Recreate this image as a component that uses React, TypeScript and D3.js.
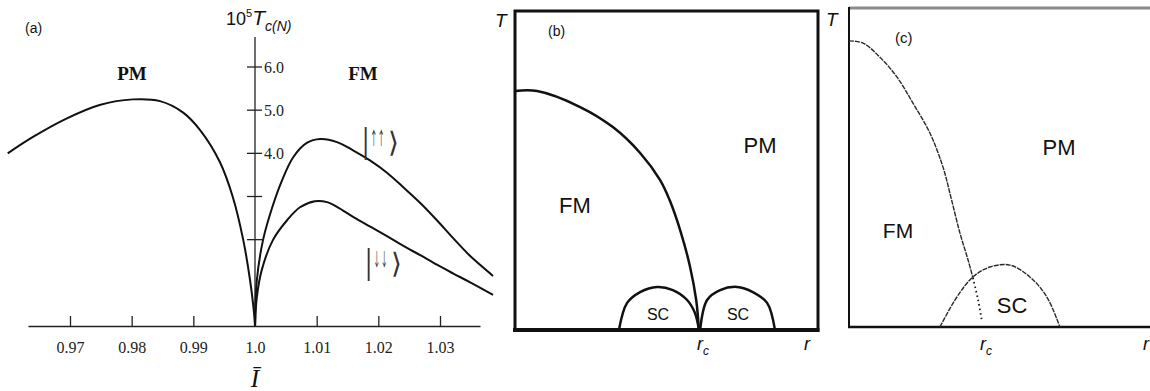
import { useRef, useEffect } from "react";
import * as d3 from "d3";

// ---------- panel (a): 10^5 Tc(N) against I-bar ----------
const iTicks = [0.97, 0.98, 0.99, 1.0, 1.01, 1.02, 1.03];
const iTickLabels = ["0.97", "0.98", "0.99", "1.0", "1.01", "1.02", "1.03"];
const tTicks = [2, 3, 4, 5, 6];
const tTickLabels = ["", "", "4.0", "5.0", "6.0"];

// [I, 10^5 Tc]
const pmCurve = [
  [0.9599, 4.0], [0.964, 4.38], [0.9695, 4.81], [0.9748, 5.12], [0.9802, 5.25],
  [0.9846, 5.21], [0.9883, 4.95], [0.9911, 4.54], [0.9943, 3.8], [0.9964, 2.99],
  [0.9981, 1.99], [0.9992, 1.06], [0.9998, 0.37], [1.0, 0],
];
const upUpCurve = [
  [1.0, 0], [1.0003, 1.06], [1.0013, 1.99], [1.0028, 2.75], [1.0044, 3.38],
  [1.0062, 3.91], [1.0084, 4.24], [1.0106, 4.33], [1.0133, 4.26], [1.0159, 4.07],
  [1.0187, 3.83], [1.0214, 3.55], [1.024, 3.22], [1.0268, 2.85], [1.0295, 2.45],
  [1.0321, 2.04], [1.0349, 1.62], [1.0386, 1.16],
];
const downDownCurve = [
  [1.0, 0], [1.0003, 0.67], [1.0011, 1.3], [1.0029, 1.99], [1.0052, 2.45],
  [1.0073, 2.75], [1.0097, 2.89], [1.0117, 2.87], [1.0133, 2.76], [1.0159, 2.53],
  [1.0187, 2.3], [1.0214, 2.08], [1.024, 1.86], [1.0268, 1.64], [1.0295, 1.42],
  [1.0321, 1.22], [1.0349, 1.01], [1.0386, 0.72],
];

// ---------- panel (b): schematic T-r, r and T in box units ----------
const fmB = [
  [0, 0.749], [0.073, 0.749], [0.215, 0.699], [0.323, 0.636], [0.413, 0.555],
  [0.479, 0.47], [0.51, 0.408], [0.548, 0.304], [0.578, 0.197], [0.598, 0.094],
  [0.607, 0],
];
const scLeftB = [
  [0.343, 0], [0.37, 0.085], [0.413, 0.119], [0.469, 0.135], [0.521, 0.125],
  [0.568, 0.094], [0.594, 0.053], [0.607, 0],
];
const scRightB = [
  [0.611, 0], [0.634, 0.094], [0.677, 0.125], [0.733, 0.135], [0.785, 0.119],
  [0.832, 0.085], [0.858, 0],
];

// ---------- panel (c) ----------
const fmC = [
  [0, 0.897], [0.046, 0.89], [0.102, 0.846], [0.158, 0.784], [0.211, 0.702],
  [0.267, 0.608], [0.31, 0.502], [0.336, 0.408], [0.366, 0.295], [0.393, 0.21],
  [0.409, 0.154],
];
const fmCHidden = [[0.409, 0.154], [0.426, 0.085], [0.439, 0.016]];
const scC = [
  [0.3, 0], [0.356, 0.094], [0.409, 0.157], [0.465, 0.188], [0.531, 0.194],
  [0.597, 0.157], [0.653, 0.094], [0.696, 0],
];

const sans = "'Liberation Sans', Arial, sans-serif";
const serif = "'Liberation Serif', 'Times New Roman', serif";

export default function App() {
  const ref = useRef(null);

  function init() {
    const svg = d3.select(ref.current);
    svg.selectAll("*").remove();
    const smooth = d3.curveCatmullRom.alpha(0.5);

    // ===== (a) =====
    const x = d3.scaleLinear().domain([0.97, 1.03]).range([70, 440]);
    const y = d3.scaleLinear().domain([0, 6]).range([326, 67]);
    const xAxisScale = x.copy().domain([x.invert(28), x.invert(480)]).range([28, 480]);
    const x0 = x(1.0);

    const a = svg.append("g");
    a.append("g")
      .attr("transform", `translate(0,${y(0)})`)
      .call(
        d3.axisBottom(xAxisScale)
          .tickValues(iTicks)
          .tickFormat((d, i) => iTickLabels[i])
          .tickSizeInner(-10)
          .tickSizeOuter(0)
          .tickPadding(16)
      )
      .call((g) => {
        g.attr("font-family", serif);
        g.select(".domain").attr("stroke", "#222").attr("stroke-width", 1.3);
        g.selectAll(".tick line").attr("stroke", "#222").attr("stroke-width", 1.3);
        g.selectAll("text").attr("font-family", serif).attr("font-size", 16).attr("fill", "#222");
      });

    // y axis through I = 1
    a.append("line")
      .attr("x1", x0).attr("x2", x0)
      .attr("y1", 37).attr("y2", y(0))
      .attr("stroke", "#222").attr("stroke-width", 1.3);
    a.selectAll(".ytick")
      .data(tTicks)
      .join("line")
      .attr("x1", x0 - 8).attr("x2", x0 + 7)
      .attr("y1", (d) => y(d)).attr("y2", (d) => y(d))
      .attr("stroke", "#222").attr("stroke-width", 1.3);
    a.selectAll(".ylab")
      .data(tTicks)
      .join("text")
      .attr("x", x0 + 9)
      .attr("y", (d) => y(d) + 6)
      .attr("font-family", serif).attr("font-size", 16).attr("fill", "#222")
      .text((d, i) => tTickLabels[i]);

    const lineA = d3.line().x((d) => x(d[0])).y((d) => y(d[1])).curve(smooth);
    [pmCurve, upUpCurve, downDownCurve].forEach((c) => {
      a.append("path").datum(c).attr("d", lineA)
        .attr("fill", "none").attr("stroke", "#111").attr("stroke-width", 2);
    });

    // axis title
    const yt = a.append("text").attr("x", 226).attr("y", 25)
      .attr("font-family", sans).attr("font-size", 18).attr("fill", "#111");
    yt.append("tspan").text("10");
    yt.append("tspan").attr("dy", -8).attr("font-size", 11).text("5");
    yt.append("tspan").attr("dy", 8).attr("font-size", 21).attr("font-style", "italic").text("T");
    yt.append("tspan").attr("dy", 6).attr("font-size", 14).attr("font-style", "italic").text("c(N)");

    a.append("text").attr("x", 25).attr("y", 33)
      .attr("font-family", sans).attr("font-size", 14).attr("fill", "#111").text("(a)");
    a.append("text").attr("x", x0).attr("y", 387).attr("text-anchor", "middle")
      .attr("font-family", serif).attr("font-style", "italic").attr("font-size", 25)
      .attr("fill", "#111").text("Ī");

    a.append("text").attr("x", 132).attr("y", 80).attr("text-anchor", "middle")
      .attr("font-family", serif).attr("font-weight", "bold").attr("font-size", 19)
      .attr("fill", "#111").text("PM");
    a.append("text").attr("x", 363).attr("y", 80).attr("text-anchor", "middle")
      .attr("font-family", serif).attr("font-weight", "bold").attr("font-size", 19)
      .attr("fill", "#111").text("FM");

    // kets |↑↑⟩ and |↓↓⟩
    const ket = (kx, ky, arrow) => {
      const g = a.append("g").attr("fill", "#333");
      g.append("text").attr("x", kx).attr("y", ky)
        .attr("font-family", serif).attr("font-size", 36).text("|");
      g.append("text").attr("x", kx + 8).attr("y", ky - 7)
        .attr("font-family", "'Noto Sans CJK JP'").attr("font-size", 18)
        .attr("textLength", 15).attr("lengthAdjust", "spacingAndGlyphs")
        .text(arrow + arrow);
      g.append("text").attr("x", kx + 26).attr("y", ky)
        .attr("font-family", "'Noto Sans CJK JP'").attr("font-size", 28)
        .attr("font-weight", 300).text("⟩");
    };
    ket(362, 152, "↑");
    ket(365, 273, "↓");

    // ===== (b) =====
    const xb = d3.scaleLinear().domain([0, 1]).range([515, 818]);
    const yb = d3.scaleLinear().domain([0, 1]).range([330, 11]);
    const b = svg.append("g");
    b.append("rect")
      .attr("x", xb(0)).attr("y", yb(1))
      .attr("width", xb(1) - xb(0)).attr("height", yb(0) - yb(1))
      .attr("fill", "none").attr("stroke", "#111").attr("stroke-width", 3);
    b.append("line").attr("x1", xb(0) - 2).attr("x2", xb(1) + 1.5)
      .attr("y1", yb(0)).attr("y2", yb(0))
      .attr("stroke", "#111").attr("stroke-width", 4);
    const lineB = d3.line().x((d) => xb(d[0])).y((d) => yb(d[1])).curve(smooth);
    [fmB, scLeftB, scRightB].forEach((c) => {
      b.append("path").datum(c).attr("d", lineB)
        .attr("fill", "none").attr("stroke", "#111").attr("stroke-width", 2.5);
    });
    const txt = (g, tx, ty, s, size, opts = {}) =>
      g.append("text").attr("x", tx).attr("y", ty)
        .attr("font-family", sans).attr("font-size", size).attr("fill", "#111")
        .attr("text-anchor", opts.anchor || "start")
        .attr("font-style", opts.italic ? "italic" : "normal")
        .text(s);
    txt(b, 495, 27, "T", 19, { italic: true });
    txt(b, 548, 36, "(b)", 14);
    txt(b, 760, 153, "PM", 22, { anchor: "middle" });
    txt(b, 575, 213, "FM", 22, { anchor: "middle" });
    txt(b, 658, 320, "SC", 16, { anchor: "middle" });
    txt(b, 738, 320, "SC", 16, { anchor: "middle" });
    const rcB = txt(b, 697, 350, "r", 18, { italic: true });
    rcB.append("tspan").attr("dy", 5).attr("font-size", 12).text("c");
    txt(b, 804, 350, "r", 18, { italic: true });

    // ===== (c) =====
    const xc = d3.scaleLinear().domain([0, 1]).range([849, 1152]);
    const yc = d3.scaleLinear().domain([0, 1]).range([327, 8]);
    const c = svg.append("g");
    c.append("line").attr("x1", xc(0)).attr("x2", 1150).attr("y1", yc(1)).attr("y2", yc(1))
      .attr("stroke", "#8a8a8a").attr("stroke-width", 3);
    c.append("line").attr("x1", xc(0)).attr("x2", xc(0)).attr("y1", yc(1) - 1).attr("y2", yc(0))
      .attr("stroke", "#111").attr("stroke-width", 2);
    c.append("line").attr("x1", xc(0) - 1).attr("x2", 1150).attr("y1", yc(0)).attr("y2", yc(0))
      .attr("stroke", "#111").attr("stroke-width", 2.5);
    const lineC = d3.line().x((d) => xc(d[0])).y((d) => yc(d[1])).curve(smooth);
    [fmC, scC].forEach((cv) => {
      c.append("path").datum(cv).attr("d", lineC)
        .attr("fill", "none").attr("stroke", "#2a2a2a").attr("stroke-width", 1.4)
        .attr("stroke-dasharray", "5,1");
    });
    c.append("path").datum(fmCHidden).attr("d", lineC)
      .attr("fill", "none").attr("stroke", "#111").attr("stroke-width", 1.8)
      .attr("stroke-dasharray", "1.5,3");
    txt(c, 826, 26, "T", 19, { italic: true });
    txt(c, 895, 43, "(c)", 15);
    txt(c, 1059, 155, "PM", 22, { anchor: "middle" });
    txt(c, 898, 238, "FM", 21, { anchor: "middle" });
    txt(c, 1012, 313, "SC", 22, { anchor: "middle" });
    const rcC = txt(c, 980, 350, "r", 18, { italic: true });
    rcC.append("tspan").attr("dy", 5).attr("font-size", 12).text("c");
    txt(c, 1143, 350, "r", 18, { italic: true });
  }

  useEffect(init, []);

  return (
    <svg
      ref={ref}
      width={1150}
      height={391}
      style={{ position: "absolute", left: 0, top: 0, background: "#fff" }}
    />
  );
}
